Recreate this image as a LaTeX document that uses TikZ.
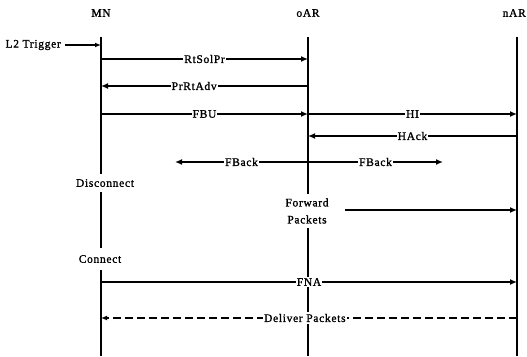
\documentclass[tikz,border=0pt]{standalone}
\usepackage{fontspec}
\setmainfont{Liberation Serif}[LetterSpace=6, FakeBold=1.2]
\usetikzlibrary{arrows.meta}
\tikzset{
  txt/.style={font=\fontsize{11.5}{17}\selectfont, text=black},
  lbl/.style={txt, fill=white, inner xsep=1pt, inner ysep=1.5pt},
  evt/.style={txt, fill=white, inner xsep=2pt, align=center},
  life/.style={line width=2pt, black},
  msg/.style={line width=2pt, black, -{Latex[length=7pt,width=6pt]}},
  trig/.style={line width=1.3pt, black, -{Latex[length=6pt,width=5pt]}},
  dmsg/.style={line width=1.2pt, black, dash pattern=on 8pt off 4pt, -{Latex[length=6pt,width=5pt]}},
}
\begin{document}
\begin{tikzpicture}[x=1pt,y=-1pt]
\useasboundingbox[fill=white] (0,0) rectangle (527,356);
% headers
\node[txt] (MN) at (101,13) {MN};
\node[txt] (oAR) at (308,13) {oAR};
\coordinate (nAR) at (517,13);
\node[txt, anchor=east, inner xsep=0.5pt] (nARlbl) at (526.5,13) {nAR};
% rows
\coordinate (top) at (0,37);
\coordinate (bot) at (0,356);
\coordinate (r0) at (0,45);
\coordinate (r1) at (0,59);
\coordinate (r2) at (0,86);
\coordinate (r3) at (0,114);
\coordinate (r4) at (0,136);
\coordinate (r5) at (0,162);
\coordinate (r6) at (0,210);
\coordinate (r7) at (0,282);
\coordinate (r8) at (0,318);
% lifelines
\draw[life] (MN |- top) -- (MN |- bot);
\draw[life] (oAR |- top) -- (oAR |- bot);
\draw[life] (nAR |- top) -- (nAR |- bot);
% L2 trigger
\node[txt, anchor=east, inner sep=0pt] (L2) at (61,45) {L2 Trigger};
\draw[trig] (L2.east -| 65,0) -- (MN |- r0);
% messages
\draw[msg] (MN |- r1) -- node[lbl] {RtSolPr} (oAR |- r1);
\draw[msg] (oAR |- r2) -- node[lbl, pos=0.55] {PrRtAdv} (MN |- r2);
\draw[msg] (MN |- r3) -- node[lbl] {FBU} (oAR |- r3);
\draw[msg] (oAR |- r3) -- node[lbl] {HI} (nAR |- r3);
\draw[msg] (nAR |- r4) -- node[lbl] {HAck} (oAR |- r4);
\coordinate (fbL) at (175,162);
\coordinate (fbR) at (443,162);
\draw[msg] (oAR |- r5) -- node[lbl] {FBack} (fbL);
\draw[msg] (oAR |- r5) -- node[lbl] {FBack} (fbR);
% events
\node[evt, inner ysep=5pt] (disc) at (105,183) {Disconnect};
\node[evt, inner ysep=4pt] (fwd) at (307,211) {Forward\\Packets};
\coordinate (fwdS) at (345,210);
\draw[msg] (fwdS) -- (nAR |- r6);
\node[evt, inner ysep=7pt] (conn) at (100,259) {Connect};
\draw[msg] (MN |- r7) -- node[lbl] {FNA} (nAR |- r7);
\draw[dmsg] (nAR |- r8) -- node[lbl, pos=0.51] {Deliver Packets} (MN |- r8);
\end{tikzpicture}
\end{document}
